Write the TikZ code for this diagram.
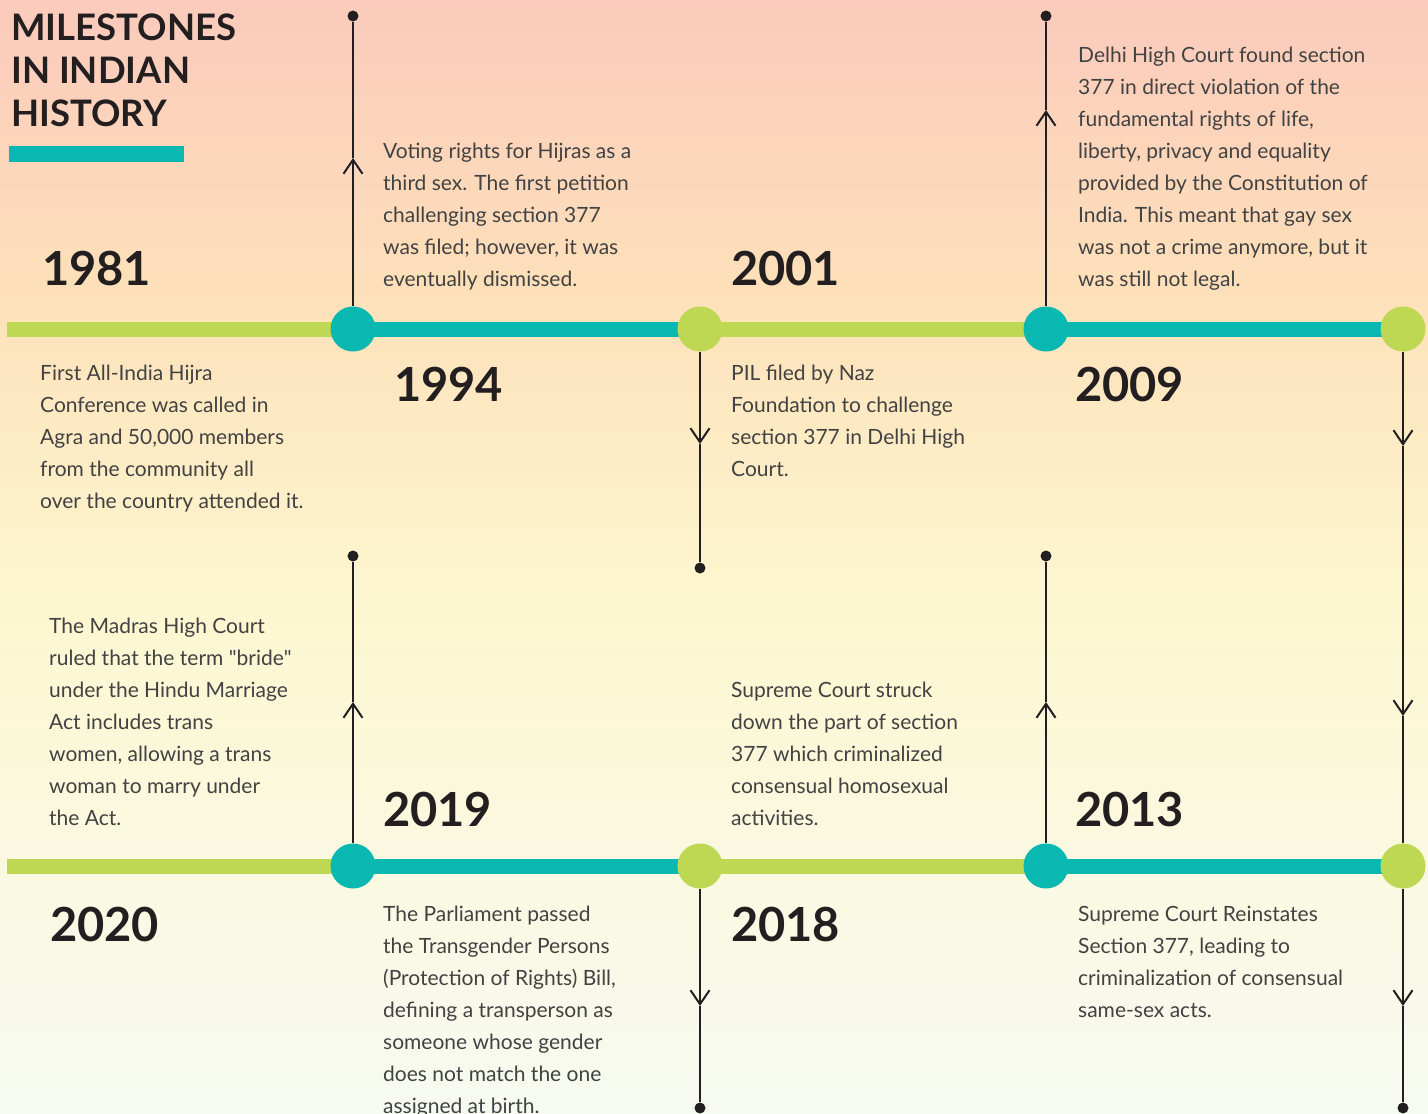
\documentclass[tikz,border=0pt]{standalone}
\usepackage{fontspec}
\setmainfont{Lato}
\newfontfamily\qfont{Lato}[Ligatures=TeXOff]
\usetikzlibrary{arrows.meta}
\definecolor{teal1}{RGB}{9,184,176}
\definecolor{lime1}{RGB}{190,216,84}
\definecolor{ink}{RGB}{35,31,32}
\definecolor{bodyc}{RGB}{66,66,66}
\definecolor{bgA}{RGB}{251,202,188}
\definecolor{bgB}{RGB}{253,225,186}
\definecolor{bgC}{RGB}{253,247,208}
\definecolor{bgD}{RGB}{247,250,241}
\tikzset{
  bar/.style={line width=15pt},
  hub/.style={circle, minimum size=45pt, inner sep=0pt, fill=#1},
  dotn/.style={circle, fill=ink, minimum size=11pt, inner sep=0pt},
  conn/.style={draw=ink, line width=2pt},
  barb/.style={-{Straight Barb[length=14pt,width=19pt]}},
  desc/.style={anchor=base west, inner sep=0pt, text=bodyc, font=\fontsize{21}{32}\selectfont},
  yearlbl/.style={anchor=base west, inner sep=0pt, text=ink, font=\bfseries\fontsize{47}{47}\selectfont},
  titlelbl/.style={anchor=base west, inner sep=0pt, text=ink, font=\bfseries\fontsize{36.5}{43}\selectfont},
}
\newcommand{\tl}[2]{\parbox[t]{#1}{\raggedright #2}}
\newcommand{\sq}{{\qfont"}}
\begin{document}
\begin{tikzpicture}[x=1pt,y=-1pt]
\useasboundingbox (0,0) rectangle (1428,1114);
% background
\shade[top color=bgA, bottom color=bgB] (0,0) rectangle (1428,301);
\shade[top color=bgB, bottom color=bgC] (0,300) rectangle (1428,601);
\shade[top color=bgC, bottom color=bgD] (0,600) rectangle (1428,1114);

% title
\node[titlelbl] (title) at (11,40) {\tl{400pt}{MILESTONES\\IN INDIAN\\HISTORY}};
\fill[teal1] (9,146) rectangle (184,162);

% hub positions
\coordinate (L1) at (7,329);
\coordinate (L2) at (7,866);
\path (353,329) coordinate (p1) (700,329) coordinate (p2) (1046,329) coordinate (p3) (1403,329) coordinate (p4);
\path (353,866) coordinate (q1) (700,866) coordinate (q2) (1046,866) coordinate (q3) (1403,866) coordinate (q4);

% bars
\draw[bar, lime1] (L1) -- (p1);
\draw[bar, teal1] (p1) -- (p2);
\draw[bar, lime1] (p2) -- (p3);
\draw[bar, teal1] (p3) -- (p4);
\draw[bar, lime1] (L2) -- (q1);
\draw[bar, teal1] (q1) -- (q2);
\draw[bar, lime1] (q2) -- (q3);
\draw[bar, teal1] (q3) -- (q4);

% hub circles
\node[hub=teal1] (h1) at (p1) {};
\node[hub=lime1] (h2) at (p2) {};
\node[hub=teal1] (h3) at (p3) {};
\node[hub=lime1] (h4) at (p4) {};
\node[hub=teal1] (g1) at (q1) {};
\node[hub=lime1] (g2) at (q2) {};
\node[hub=teal1] (g3) at (q3) {};
\node[hub=lime1] (g4) at (q4) {};

% end dots
\node[dotn] (d1) at (353,16) {};
\node[dotn] (d2) at (700,568) {};
\node[dotn] (d3) at (1046,16) {};
\node[dotn] (d4) at (353,556) {};
\node[dotn] (d5) at (1046,556) {};
\node[dotn] (d6) at (700,1108) {};
\node[dotn] (d7) at (1403,1108) {};

% arrow points
\coordinate (a1) at (353,158);
\coordinate (a2) at (700,444);
\coordinate (a3) at (1046,110);
\coordinate (a4) at (1403,446);
\coordinate (a5) at (1403,716);
\coordinate (a6) at (353,702);
\coordinate (a7) at (700,1006);
\coordinate (a8) at (1046,702);
\coordinate (a9) at (1403,1006);

% connectors
\draw[conn, barb] (h1) -- (a1);  \draw[conn] (a1) -- (d1);
\draw[conn, barb] (h2) -- (a2);  \draw[conn] (a2) -- (d2);
\draw[conn, barb] (h3) -- (a3);  \draw[conn] (a3) -- (d3);
\draw[conn, barb] (h4) -- (a4);
\draw[conn, barb] (a4) -- (a5);  \draw[conn] (a5) -- (g4);
\draw[conn, barb] (g1) -- (a6);  \draw[conn] (a6) -- (d4);
\draw[conn, barb] (g2) -- (a7);  \draw[conn] (a7) -- (d6);
\draw[conn, barb] (g3) -- (a8);  \draw[conn] (a8) -- (d5);
\draw[conn, barb] (g4) -- (a9);  \draw[conn] (a9) -- (d7);

% years
\node[yearlbl] (y1981) at (42,285) {1981};
\node[yearlbl] (y1994) at (394,401) {1994};
\node[yearlbl] (y2001) at (731,285) {2001};
\node[yearlbl] (y2009) at (1075,401) {2009};
\node[yearlbl] (y2019) at (383,826) {2019};
\node[yearlbl] (y2013) at (1075,826) {2013};
\node[yearlbl] (y2020) at (50,941) {2020};
\node[yearlbl] (y2018) at (731,941) {2018};

% descriptions
\node[desc] (t1994) at (383,158) {\tl{330pt}{Voting rights for Hijras as a\\third sex. The first petition\\challenging section 377\\was filed; however, it was\\eventually dismissed.}};
\node[desc] (t2009) at (1078,62) {\tl{340pt}{Delhi High Court found section\\377 in direct violation of the\\fundamental rights of life,\\liberty, privacy and equality\\provided by the Constitution of\\India. This meant that gay sex\\was not a crime anymore, but it\\was still not legal.}};
\node[desc] (t1981) at (40,380) {\tl{320pt}{First All-India Hijra\\Conference was called in\\Agra and 50,000 members\\from the community all\\over the country attended it.}};
\node[desc] (t2001) at (731,380) {\tl{320pt}{PIL filed by Naz\\Foundation to challenge\\section 377 in Delhi High\\Court.}};
\node[desc] (t2020) at (49,633) {\tl{300pt}{The Madras High Court\\ruled that the term \sq bride\sq\\under the Hindu Marriage\\Act includes trans\\women, allowing a trans\\woman to marry under\\the Act.}};
\node[desc] (t2018) at (731,697) {\tl{300pt}{Supreme Court struck\\down the part of section\\377 which criminalized\\consensual homosexual\\activities.}};
\node[desc] (t2019) at (383,921) {\tl{300pt}{The Parliament passed\\the Transgender Persons\\(Protection of Rights) Bill,\\defining a transperson as\\someone whose gender\\does not match the one\\assigned at birth.}};
\node[desc] (t2013) at (1078,921) {\tl{340pt}{Supreme Court Reinstates\\Section 377, leading to\\criminalization of consensual\\same-sex acts.}};
\end{tikzpicture}
\end{document}
